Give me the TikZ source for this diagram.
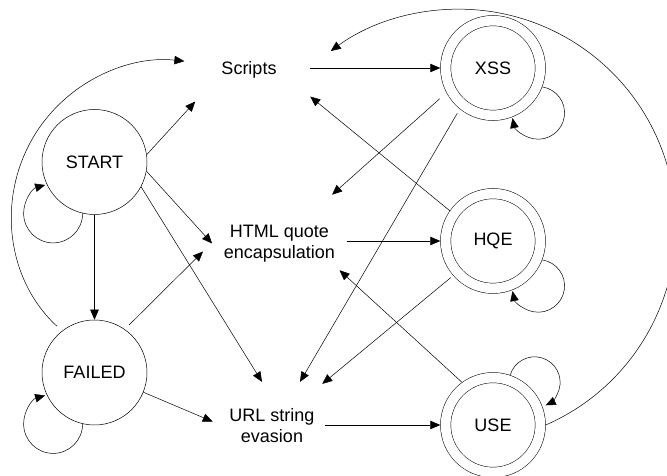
\documentclass[tikz,border=0pt]{standalone}
\usepackage{fontspec}
\setmainfont{Liberation Sans}
\usetikzlibrary{arrows.meta}

\begin{document}
\begin{tikzpicture}[x=1pt, y=1pt,
    font=\fontsize{18}{21}\selectfont,
    line width=0.5pt,
    arrow/.style={-{Triangle[length=10pt,width=8.5pt]}},
    plain/.style={draw, circle, minimum size=105pt, inner sep=0pt},
    final/.style={draw, circle, double, double distance=9.8pt,
                  minimum size=94.7pt, inner sep=0pt, outer sep=5.4pt},
    attack/.style={align=center, inner sep=0pt}
  ]
  \useasboundingbox (0,0) rectangle (667,476);
  \clip (0,0) rectangle (667,476);

  \node[plain] (start) at (94.5,314) {START};
  \node[plain] (failed) at (94.5,103.5) {FAILED};
  \node[final] (xss) at (493,408) {XSS};
  \node[final] (hqe) at (493,235) {HQE};
  \node[final] (use) at (493,51) {USE};

  \node[attack, minimum width=122pt, minimum height=62pt] (scripts) at (249,405.7) {Scripts};
  \node[attack, minimum width=134pt, minimum height=53pt] (html) at (279.3,232.5) {HTML quote\\encapsulation};
  \node[attack, minimum width=106pt, minimum height=87pt] (url) at (272,50.35) {URL string\\evasion};

  % attack vector -> result
  \draw[arrow] (scripts.east |- xss.west) -- (xss.west);
  \draw[arrow] (html.east |- hqe.west) -- (hqe.west);
  \draw[arrow] (url.east |- use.west) -- (use.west);

  \draw[arrow] (start.8) -- ([xshift=7.5pt]scripts.south west);
  \draw[arrow] (start.-10) -- (html.west);
  \draw[arrow] (start.-28) -- ([xshift=-10pt]url.north);
  \draw[arrow] (start.south) -- (failed.north);

  \draw[arrow, shorten <=6pt] (failed.55) -- ([xshift=-9pt,yshift=-8pt]html.west);
  \draw[arrow] (failed.-22) -- ([xshift=-6pt,yshift=4pt]url.west);

  \draw[arrow, shorten <=9pt] (xss.208) -- ([xshift=-14.5pt,yshift=22pt]html.north east);
  \draw[arrow, shorten <=5pt] (xss.231) -- ([xshift=28pt]url.north);
  \draw[arrow] (hqe.145) -- ([yshift=5pt]scripts.south east);
  \draw[arrow, shorten <=3pt] (hqe.221) -- ([xshift=-3pt,yshift=-2pt]url.north east);
  \draw[arrow] (use.126) -- ([xshift=-7pt]html.south east);

  % back to scripts
  \draw[arrow, shorten <=7pt] (failed.128) arc[start angle=227.3, end angle=83.9, radius=156];
  \draw[arrow] (use.east) arc[start angle=-66.4, end angle=126.2, radius=217];

  % self loops
  \draw[arrow] (start.257) arc[start angle=0, end angle=-254.3, radius=29.5];
  \draw[arrow] (failed.257) arc[start angle=0, end angle=-254.3, radius=29.5];
  \draw[arrow] (xss.-21) arc[start angle=81.3, end angle=-168.6, radius=26.3];
  \draw[arrow] (hqe.-21) arc[start angle=81.3, end angle=-168.6, radius=26.3];
  \draw[arrow] (use.71) arc[start angle=163.6, end angle=-64.3, radius=25.5];
\end{tikzpicture}
\end{document}
